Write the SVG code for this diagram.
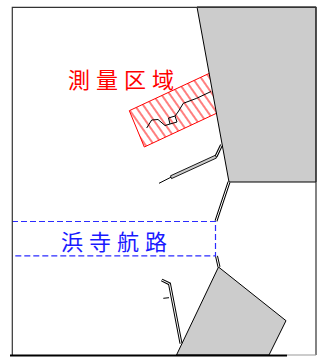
<svg xmlns="http://www.w3.org/2000/svg" width="321" height="358" viewBox="0 0 321 358">
<style>
.land{fill:#cccccc;stroke:#000;stroke-width:1}
.frame{fill:none;stroke:#333;stroke-width:1.2}
.dbl{fill:none;stroke:#000;stroke-width:3;stroke-linejoin:miter}
.dblin{fill:none;stroke:#fff;stroke-width:1}
.ln{fill:none;stroke:#000;stroke-width:1}
.lbl{font-family:"Noto Sans CJK JP","Noto Sans CJK SC",sans-serif;font-size:22px;letter-spacing:6px}
</style>
<defs>
<pattern id="hatch" patternUnits="userSpaceOnUse" width="7" height="10" patternTransform="rotate(-35)">
<line x1="1" y1="0" x2="1" y2="10" stroke="#ff0000" stroke-width="1"/>
</pattern>
</defs>
<rect width="321" height="358" fill="#fff"/>
<g id="survey-area">
<polygon points="129.3,110.7 210,73 225,109.3 144.3,147" fill="url(#hatch)" stroke="#ff0000" stroke-width="1"/>
<polyline class="ln" points="146.7,128 151.7,120 158,119.5 165,125.5 170,124 168.5,118 175,116 177,122 170,124"/>
<polyline class="ln" points="175,116 178,112 183.3,103.3 196.7,98.3 211,91.5"/>
</g>
<g id="land-north">
<polygon class="land" points="197,7 316,7 316,182 229,182"/>
</g>
<g id="land-south">
<polygon class="land" points="218.5,267 286,320.7 269,355 176.5,355"/>
</g>
<g id="connectors">
<path class="dbl" d="M229,182 L216,221"/>
<path class="dblin" d="M229,182 L216,221"/>
<path class="dbl" d="M216.5,256 L219,267"/>
<path class="dblin" d="M216.5,256 L219,267"/>
<path class="dbl" d="M216,156.5 L221.5,145"/>
<path class="dblin" d="M216,156.5 L221.5,145"/>
<polygon points="170.5,175.8 215.5,155.2 216.5,158 171.5,178.6" fill="#cccccc" stroke="#000" stroke-width="0.9"/>
<line class="ln" x1="171" y1="177.2" x2="159" y2="183.3"/>
<path class="dbl" d="M161.7,280 L169.5,283.8 L181,343.5"/>
<path class="dblin" d="M161.7,280 L169.5,283.8 L181,343.5"/>
<line class="ln" x1="163.3" y1="298.3" x2="169" y2="297.7" stroke-width="1.5"/>
</g>
<g id="channel">
<path d="M12,221.5 H215.5 V255.8 H12" fill="none" stroke="#2b2bff" stroke-width="1.2" stroke-dasharray="6,3"/>
</g>
<g id="frame">
<path class="frame" d="M12.3,355 V7.3 H316 V355"/>
<line x1="10" y1="355.5" x2="287" y2="355.5" stroke="#000" stroke-width="2"/>
<line x1="287" y1="355" x2="316" y2="355" stroke="#999" stroke-width="1"/>
</g>
<g id="labels">
<text class="lbl" x="68" y="88" fill="#ff0000">測量区域</text>
<text class="lbl" x="61" y="250" fill="#1a1aff">浜寺航路</text>
</g>
</svg>
